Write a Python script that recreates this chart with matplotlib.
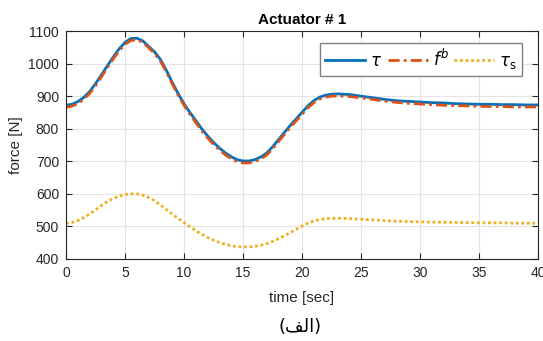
import matplotlib
matplotlib.use("Agg")
import matplotlib.pyplot as plt

# time samples [sec]: half-second steps over the transient, then 1 s
time_s = [0, 0.5, 1, 1.5, 2, 2.5, 3, 3.5, 4, 4.5, 5, 5.5, 6, 6.5, 7, 7.5,
          8, 8.5, 9, 9.5, 10, 10.5, 11, 11.5, 12, 12.5, 13, 13.5, 14, 14.5,
          15, 15.5, 16, 16.5, 17, 17.5, 18, 18.5, 19, 19.5, 20, 20.5, 21,
          21.5, 22, 22.5, 23, 23.5, 24,
          25, 26, 27, 28, 29, 30, 31, 32, 33, 34, 35, 36, 37, 38, 39, 40]

# tau (blue)
tau = [872, 875, 883, 896, 914, 938, 965, 993, 1020, 1045, 1065, 1077,
       1078, 1070, 1053, 1036, 1013, 980, 943, 908, 877, 850, 825, 800,
       778, 758, 741, 726, 714, 705, 701, 701, 705, 713, 725, 744, 766,
       788, 810, 830, 850, 870, 886, 897, 903, 906, 907, 906, 905,
       900, 895, 890, 886, 884, 882, 880, 879, 877, 876, 875, 875, 874,
       874, 873, 873]

# f^b (red, dash-dot)
f_b = [866, 869, 877, 890, 908, 932, 959, 987, 1014, 1039, 1059, 1071,
       1073, 1066, 1049, 1031, 1008, 975, 938, 903, 872, 844, 819, 794,
       772, 752, 735, 720, 708, 699, 695, 695, 699, 707, 719, 738, 760,
       782, 804, 824, 844, 864, 880, 891, 897, 900, 901, 900, 899,
       895, 890, 885, 881, 878, 876, 874, 872, 871, 870, 869, 868, 868,
       867, 867, 867]

# tau_s (yellow, dotted)
tau_s = [510, 512, 518, 527, 538, 551, 564, 576, 586, 593, 598, 600,
         600, 596, 589, 579, 566, 552, 538, 525, 512, 499, 487, 476,
         466, 458, 451, 445, 441, 438, 437, 437, 439, 442, 447, 454, 462,
         471, 481, 491, 501, 510, 517, 521, 524, 525, 525, 525, 524,
         522, 520, 518, 516, 515, 514, 513, 513, 512, 512, 511, 511, 511,
         510, 510, 510]

x_ticks = [0, 5, 10, 15, 20, 25, 30, 35, 40]
y_ticks = [400, 500, 600, 700, 800, 900, 1000, 1100]

plt.rcParams["font.family"] = ["Liberation Sans", "DejaVu Sans"]
plt.rcParams["mathtext.fontset"] = "dejavusans"

fig = plt.figure(figsize=(5.43, 3.41), dpi=100)
ax = fig.add_axes([0.1215, 0.2405, 0.8693, 0.6685])

ax.plot(time_s, tau, color="#0072BD", lw=2.0, label=r"$\tau$")
ax.plot(time_s, f_b, color="#D95319", lw=2.0, ls=(0, (4, 1.5, 1, 1.5)), label=r"$f^b$")
ax.plot(time_s, tau_s, color="#EDB120", lw=2.0, ls=(0, (1, 1)), label=r"$\tau_{\rm s}$")

ax.set_xlim(0, 40)
ax.set_ylim(400, 1100)
ax.set_xticks(x_ticks)
ax.set_yticks(y_ticks)
ax.grid(True, color="#e3e3e3", lw=0.8)
ax.set_axisbelow(True)
ax.tick_params(direction="in", top=True, right=True, length=4, width=0.8,
               labelsize=10, colors="#262626", pad=5)
for s in ax.spines.values():
    s.set_color("#262626")
    s.set_linewidth(0.8)

ax.set_title("Actuator # 1", fontsize=11, fontweight="bold", pad=5)
ax.set_xlabel("time [sec]", fontsize=11, color="#262626", labelpad=8)
ax.set_ylabel("force [N]", fontsize=11, color="#262626", labelpad=4)

leg = ax.legend(ncol=3, loc="upper right", bbox_to_anchor=(0.966, 0.948),
                borderaxespad=0, fontsize=12, handlelength=2.4,
                columnspacing=0.35, handletextpad=0.3, borderpad=0.3,
                fancybox=False, framealpha=1, edgecolor="#808080")
leg.get_frame().set_linewidth(1.0)

# caption "(الف)" written with presentation forms in visual order
fig.text(0.553, 0.015, "(\ufed2\ufedf\ufe8d)", fontsize=13,
         family=["DejaVu Sans"], ha="center", va="bottom")

fig.savefig("out.png", dpi=100)
